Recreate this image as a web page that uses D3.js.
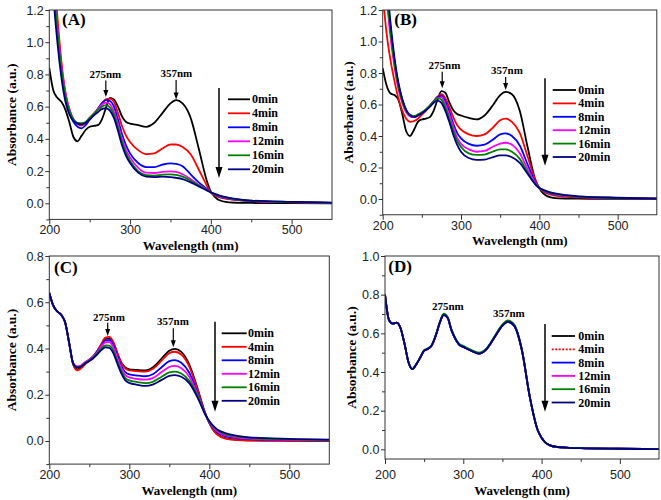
<!DOCTYPE html>
<html><head><meta charset="utf-8">
<script src="https://cdn.jsdelivr.net/npm/d3@7/dist/d3.min.js"></script>
<style>
body{margin:0;background:#fff;}
svg{display:block;}
</style></head><body>
<svg id="chart" width="661" height="500"></svg>
<script>
// ---------------- DATA ----------------
const wavelengths = [200,205,210,215,220,225,230,235,240,245,250,255,260,265,270,275,280,285,290,295,300,310,320,330,340,350,357,365,375,385,395,400,405,410,420,435,450,500,550];
const seriesLabels = ["0min","4min","8min","12min","16min","20min"];
const xTickValues = [200,300,400,500];
const yTicksAB = [0,0.2,0.4,0.6,0.8,1.0,1.2];
const yTicksC = [0,0.2,0.4,0.6,0.8];
const yTicksD = [0,0.2,0.4,0.6,0.8,1.0];
const peakLabels = ["275nm","357nm"];

// Panel A
const A_0min  = [0.84,0.70,0.655,0.63,0.58,0.50,0.41,0.385,0.42,0.455,0.475,0.48,0.485,0.52,0.59,0.655,0.645,0.60,0.54,0.505,0.495,0.485,0.475,0.50,0.56,0.62,0.64,0.62,0.53,0.34,0.14,0.072,0.04,0.02,0.007,0.003,0.002,0.001,0.0];
const A_4min  = [2.0,1.5,1.16,0.88,0.69,0.58,0.52,0.49,0.482,0.50,0.53,0.555,0.585,0.62,0.645,0.65,0.63,0.56,0.48,0.42,0.38,0.33,0.305,0.31,0.34,0.365,0.365,0.35,0.305,0.21,0.11,0.068,0.05,0.038,0.027,0.018,0.013,0.006,0.002];
const A_8min  = [1.85,1.35,1.05,0.82,0.66,0.56,0.505,0.475,0.465,0.485,0.52,0.55,0.585,0.62,0.64,0.635,0.60,0.52,0.43,0.36,0.31,0.25,0.225,0.225,0.24,0.248,0.245,0.23,0.18,0.13,0.09,0.068,0.055,0.043,0.03,0.02,0.014,0.007,0.003];
const A_12min = [1.9,1.42,1.1,0.85,0.68,0.58,0.52,0.495,0.49,0.50,0.53,0.555,0.585,0.612,0.625,0.615,0.57,0.49,0.40,0.33,0.285,0.22,0.19,0.188,0.195,0.198,0.195,0.18,0.15,0.115,0.085,0.068,0.056,0.045,0.032,0.021,0.015,0.007,0.003];
const A_16min = [1.88,1.38,1.07,0.83,0.67,0.575,0.52,0.50,0.497,0.505,0.53,0.555,0.58,0.60,0.61,0.595,0.55,0.47,0.38,0.31,0.265,0.20,0.175,0.172,0.178,0.18,0.176,0.165,0.14,0.11,0.083,0.068,0.057,0.047,0.034,0.022,0.016,0.008,0.003];
const A_20min = [1.8,1.3,1.0,0.78,0.63,0.55,0.51,0.495,0.49,0.50,0.52,0.545,0.565,0.585,0.59,0.575,0.53,0.45,0.36,0.295,0.25,0.19,0.165,0.162,0.165,0.163,0.158,0.15,0.13,0.105,0.08,0.068,0.058,0.049,0.036,0.024,0.017,0.009,0.004];

// Panel B
const B_0min  = [0.83,0.72,0.67,0.66,0.63,0.54,0.43,0.40,0.44,0.49,0.505,0.51,0.52,0.56,0.63,0.685,0.675,0.615,0.565,0.54,0.53,0.515,0.505,0.53,0.59,0.66,0.68,0.665,0.56,0.33,0.12,0.068,0.035,0.018,0.006,0.003,0.002,0.001,0.0];
const B_4min  = [1.3,1.05,0.88,0.75,0.64,0.56,0.51,0.49,0.495,0.51,0.535,0.56,0.59,0.62,0.65,0.665,0.64,0.585,0.52,0.47,0.44,0.41,0.40,0.41,0.45,0.50,0.51,0.49,0.42,0.27,0.12,0.07,0.048,0.035,0.022,0.014,0.01,0.005,0.002];
const B_8min  = [1.7,1.35,1.08,0.88,0.73,0.63,0.565,0.53,0.52,0.53,0.545,0.565,0.59,0.62,0.648,0.655,0.62,0.555,0.48,0.42,0.385,0.35,0.338,0.345,0.375,0.41,0.417,0.40,0.34,0.22,0.105,0.07,0.052,0.04,0.028,0.018,0.013,0.006,0.002];
const B_12min = [1.6,1.28,1.03,0.84,0.70,0.61,0.55,0.525,0.52,0.53,0.545,0.565,0.59,0.618,0.642,0.645,0.60,0.535,0.46,0.39,0.35,0.315,0.30,0.305,0.33,0.352,0.357,0.345,0.29,0.19,0.10,0.07,0.054,0.042,0.03,0.02,0.014,0.007,0.003];
const B_16min = [1.65,1.32,1.06,0.86,0.715,0.62,0.56,0.535,0.527,0.537,0.55,0.568,0.592,0.618,0.64,0.63,0.58,0.51,0.435,0.37,0.33,0.29,0.28,0.282,0.30,0.315,0.315,0.30,0.255,0.17,0.095,0.07,0.056,0.045,0.032,0.021,0.015,0.007,0.003];
const B_20min = [1.75,1.4,1.12,0.90,0.74,0.635,0.565,0.53,0.52,0.53,0.545,0.562,0.585,0.61,0.625,0.61,0.56,0.49,0.41,0.345,0.30,0.26,0.248,0.25,0.265,0.277,0.277,0.265,0.23,0.16,0.092,0.07,0.058,0.048,0.035,0.024,0.017,0.008,0.003];

// Panel C
const C_0min  = [0.64,0.585,0.56,0.545,0.51,0.42,0.33,0.31,0.32,0.335,0.348,0.365,0.388,0.415,0.44,0.445,0.425,0.38,0.34,0.318,0.31,0.307,0.305,0.32,0.355,0.39,0.398,0.385,0.33,0.23,0.12,0.078,0.048,0.03,0.012,0.005,0.003,0.001,0.0];
const C_4min  = [0.64,0.585,0.56,0.545,0.51,0.42,0.33,0.305,0.315,0.333,0.347,0.366,0.39,0.42,0.447,0.45,0.428,0.38,0.338,0.314,0.305,0.302,0.30,0.313,0.346,0.38,0.386,0.374,0.322,0.225,0.118,0.078,0.046,0.028,0.01,0.004,0.002,0.001,0.0];
const C_8min  = [0.64,0.585,0.56,0.545,0.51,0.42,0.335,0.32,0.325,0.34,0.352,0.367,0.388,0.413,0.435,0.437,0.415,0.37,0.325,0.298,0.288,0.283,0.28,0.29,0.318,0.345,0.35,0.338,0.295,0.21,0.115,0.08,0.054,0.038,0.021,0.012,0.008,0.004,0.002];
const C_12min = [0.64,0.585,0.56,0.545,0.51,0.42,0.335,0.322,0.327,0.342,0.352,0.366,0.385,0.41,0.427,0.428,0.405,0.36,0.315,0.285,0.275,0.268,0.265,0.273,0.297,0.32,0.325,0.315,0.278,0.205,0.115,0.082,0.058,0.042,0.025,0.015,0.01,0.005,0.003];
const C_16min = [0.64,0.585,0.56,0.545,0.51,0.42,0.333,0.318,0.323,0.338,0.348,0.362,0.38,0.40,0.413,0.412,0.39,0.345,0.302,0.272,0.262,0.255,0.25,0.257,0.277,0.297,0.30,0.292,0.26,0.198,0.115,0.084,0.062,0.047,0.03,0.019,0.013,0.007,0.004];
const C_20min = [0.64,0.585,0.56,0.545,0.51,0.42,0.333,0.318,0.322,0.336,0.346,0.358,0.375,0.393,0.405,0.403,0.38,0.335,0.292,0.262,0.251,0.243,0.238,0.245,0.263,0.282,0.285,0.278,0.25,0.19,0.115,0.086,0.065,0.05,0.034,0.022,0.016,0.009,0.006];

// Panel D
const D_0min  = [0.80,0.67,0.65,0.655,0.625,0.545,0.45,0.415,0.44,0.475,0.51,0.52,0.54,0.59,0.655,0.695,0.68,0.615,0.57,0.54,0.53,0.51,0.495,0.52,0.58,0.64,0.66,0.64,0.51,0.27,0.10,0.06,0.035,0.022,0.012,0.008,0.006,0.003,0.001];
const D_4min  = [0.80,0.67,0.65,0.655,0.625,0.545,0.45,0.415,0.44,0.475,0.51,0.52,0.54,0.59,0.655,0.695,0.68,0.615,0.57,0.54,0.53,0.51,0.495,0.52,0.58,0.64,0.66,0.64,0.51,0.27,0.10,0.06,0.035,0.022,0.012,0.008,0.006,0.003,0.001];
const D_8min  = [0.80,0.67,0.65,0.655,0.625,0.545,0.45,0.415,0.44,0.475,0.51,0.52,0.54,0.59,0.655,0.696,0.68,0.615,0.57,0.54,0.53,0.511,0.496,0.52,0.58,0.641,0.661,0.64,0.51,0.27,0.10,0.06,0.035,0.022,0.012,0.008,0.006,0.003,0.001];
const D_12min = [0.80,0.67,0.65,0.655,0.625,0.545,0.45,0.415,0.44,0.475,0.51,0.52,0.54,0.59,0.656,0.697,0.681,0.616,0.571,0.541,0.531,0.512,0.497,0.521,0.581,0.642,0.662,0.641,0.511,0.27,0.10,0.06,0.035,0.022,0.012,0.008,0.006,0.003,0.001];
const D_16min = [0.80,0.67,0.65,0.655,0.625,0.545,0.45,0.415,0.44,0.477,0.513,0.523,0.543,0.594,0.66,0.702,0.685,0.62,0.575,0.545,0.535,0.515,0.5,0.524,0.585,0.646,0.667,0.645,0.514,0.272,0.10,0.06,0.035,0.022,0.012,0.008,0.006,0.003,0.001];
const D_20min = [0.80,0.67,0.65,0.655,0.625,0.545,0.45,0.415,0.44,0.475,0.51,0.52,0.54,0.59,0.655,0.695,0.68,0.615,0.57,0.54,0.53,0.51,0.495,0.52,0.58,0.64,0.66,0.64,0.51,0.27,0.10,0.06,0.035,0.022,0.012,0.008,0.006,0.003,0.001];

// ---------------- STYLE / LAYOUT ----------------
const seriesColors = ["#000000","#ff0000","#0000ff","#ff00ff","#008000","#000080"];
const serif = "'Liberation Serif','Times New Roman',serif";
const sans = "'Liberation Sans',Arial,sans-serif";

const panels = [
  { letter:"(A)", series:[A_0min,A_4min,A_8min,A_12min,A_16min,A_20min], yDomain:[-0.1,1.2], yTicks:yTicksAB,
    box:{left:49.3,right:332,top:10,bottom:219.4}, xLabY:234, xTitleY:249.5, yTitleX:16,
    letterPos:[62,25], legend:{ax:219,at:88,ab:178,lx0:228,lx1:250,tx:252,y0:99.3,dy:14},
    peaks:[{w:270,tx:105.3,ty:77.5,a0:80.5,a1:97},{w:357,tx:176.3,ty:76.7,a0:80,a1:99.5}], dotted:false },
  { letter:"(B)", series:[B_0min,B_4min,B_8min,B_12min,B_16min,B_20min], yDomain:[-0.1,1.2], yTicks:yTicksAB,
    box:{left:382.7,right:656.8,top:10,bottom:214.75}, xLabY:229.5, xTitleY:245, yTitleX:353,
    letterPos:[394.3,25], legend:{ax:545,at:78.3,ab:165.7,lx0:552.7,lx1:576,tx:578.3,y0:90,dy:13.4},
    peaks:[{w:276,tx:444.5,ty:68.5,a0:71.7,a1:88.3},{w:357,tx:507,ty:74,a0:77,a1:90}], dotted:false },
  { letter:"(C)", series:[C_0min,C_4min,C_8min,C_12min,C_16min,C_20min], yDomain:[-0.1,0.8], yTicks:yTicksC,
    box:{left:49.3,right:329.3,top:256,bottom:464.1}, xLabY:479, xTitleY:494.5, yTitleX:16,
    letterPos:[54,273.3], legend:{ax:215,at:321.7,ab:411.7,lx0:221.7,lx1:246.7,tx:248,y0:333.3,dy:13.5},
    peaks:[{w:273,tx:109,ty:320.5,a0:322.7,a1:336},{w:355,tx:173,ty:325,a0:328.3,a1:347.3}], dotted:false },
  { letter:"(D)", series:[D_0min,D_4min,D_8min,D_12min,D_16min,D_20min], yDomain:[-0.05,1.0], yTicks:yTicksD,
    box:{left:385,right:659,top:256,bottom:459}, xLabY:479, xTitleY:494.5, yTitleX:356,
    letterPos:[388.3,271.7], legend:{ax:545,at:324,ab:411.7,lx0:551.7,lx1:575,tx:578.3,y0:336,dy:13.3},
    peaks:[{w:null,tx:447.8,ty:310},{w:null,tx:508.8,ty:316.7}], dotted:true }
];

const svg = d3.select("#chart");
svg.append("rect").attr("width",661).attr("height",500).attr("fill","#fff");
const defs = svg.append("defs");

function arrow(g, x, y0, y1, w, headW, headL){
  g.append("line").attr("x1",x).attr("x2",x).attr("y1",y0).attr("y2",y1-headL+1)
    .attr("stroke","#000").attr("stroke-width",w);
  g.append("path").attr("d",`M${x-headW/2},${y1-headL} L${x+headW/2},${y1-headL} L${x},${y1} Z`).attr("fill","#000");
}

panels.forEach((p,pi)=>{
  const B = p.box;
  const x = d3.scaleLinear().domain([200,550]).range([B.left,B.right]);
  const y = d3.scaleLinear().domain(p.yDomain).range([B.bottom,B.top]);
  const g = svg.append("g");
  const clipId = "clip"+pi;
  defs.append("clipPath").attr("id",clipId).append("rect")
    .attr("x",B.left).attr("y",B.top).attr("width",B.right-B.left).attr("height",B.bottom-B.top);

  const line = d3.line().x((d,i)=>x(wavelengths[i])).y(d=>y(d)).curve(d3.curveMonotoneX);
  const lg = g.append("g").attr("clip-path",`url(#${clipId})`);
  p.series.forEach((s,i)=>{
    lg.append("path").attr("d",line(s)).attr("fill","none")
      .attr("stroke",seriesColors[i]).attr("stroke-width",1.8)
      .attr("stroke-linejoin","round")
      .attr("stroke-dasharray",(p.dotted && i===1)?"2,1.5":null);
  });

  // axes
  const xAxis = d3.axisBottom(x).tickValues(xTickValues).tickSize(5).tickFormat(d3.format("d"));
  const xa = g.append("g").attr("transform",`translate(0,${B.bottom})`).call(xAxis);
  xa.selectAll("text").attr("y",p.xLabY-B.bottom).attr("dy",null);
  const xMinor = d3.axisBottom(x).tickValues([250,350,450]).tickSize(3).tickFormat("");
  g.append("g").attr("transform",`translate(0,${B.bottom})`).call(xMinor);

  const yAxis = d3.axisLeft(y).tickValues(p.yTicks).tickSize(4).tickPadding(1.5).tickFormat(d3.format(".1f"));
  g.append("g").attr("transform",`translate(${B.left},0)`).call(yAxis);
  const minors = d3.range(Math.ceil(p.yDomain[0]*10), Math.floor(p.yDomain[1]*10)+1).map(v=>v/10)
    .filter(v=>!p.yTicks.some(t=>Math.abs(t-v)<1e-9));
  const yMinor = d3.axisLeft(y).tickValues(minors).tickSize(3).tickFormat("");
  g.append("g").attr("transform",`translate(${B.left},0)`).call(yMinor);

  g.selectAll(".domain").remove();
  g.selectAll(".tick line").attr("stroke","#333");
  g.selectAll(".tick text").attr("font-family",sans).attr("font-size","12.5px").attr("fill","#222");

  // frame
  g.append("rect").attr("x",B.left).attr("y",B.top).attr("width",B.right-B.left).attr("height",B.bottom-B.top)
    .attr("fill","none").attr("stroke","#333").attr("stroke-width",1);

  // titles
  g.append("text").attr("x",(B.left+B.right)/2).attr("y",p.xTitleY).attr("text-anchor","middle")
    .attr("font-family",serif).attr("font-weight","bold").attr("font-size","13px").text("Wavelength (nm)");
  g.append("text").attr("transform",`translate(${p.yTitleX},${(B.top+B.bottom)/2}) rotate(-90)`)
    .attr("text-anchor","middle").attr("font-family",serif).attr("font-weight","bold").attr("font-size","13.5px")
    .text("Absorbance (a.u.)");

  // panel letter
  g.append("text").attr("x",p.letterPos[0]).attr("y",p.letterPos[1])
    .attr("font-family",serif).attr("font-weight","bold").attr("font-size","17px").text(p.letter);

  // peak annotations
  p.peaks.forEach((pk,k)=>{
    g.append("text").attr("x",pk.tx).attr("y",pk.ty).attr("text-anchor","middle")
      .attr("font-family",serif).attr("font-weight","bold").attr("font-size","11px").text(peakLabels[k]);
    if(pk.w!==null) arrow(g, x(pk.w), pk.a0, pk.a1, 1.2, 5, 7);
  });

  // legend
  const L = p.legend;
  arrow(g, L.ax, L.at, L.ab, 1.5, 7, 11);
  seriesLabels.forEach((lab,i)=>{
    const yy = L.y0 + i*L.dy;
    g.append("line").attr("x1",L.lx0).attr("x2",L.lx1).attr("y1",yy).attr("y2",yy)
      .attr("stroke",seriesColors[i]).attr("stroke-width",1.8)
      .attr("stroke-dasharray",(p.dotted && i===1)?"2,1.5":null);
    g.append("text").attr("x",L.tx).attr("y",yy+4).attr("font-family",serif).attr("font-weight","bold")
      .attr("font-size","12px").text(lab);
  });
});
</script>
</body></html>
